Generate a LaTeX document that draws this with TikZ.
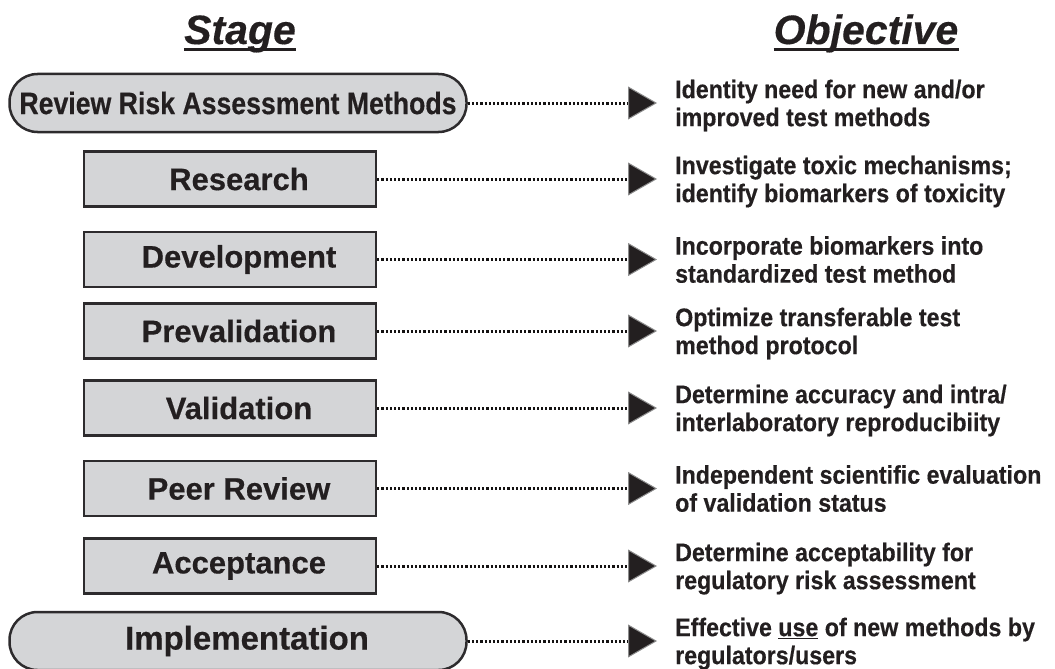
\documentclass[tikz,border=0pt]{standalone}
\usepackage{fontspec}
\setmainfont{Liberation Sans}[BoldFeatures={FakeBold=0.4}, BoldItalicFeatures={FakeBold=0.4}]
\newfontfamily\narrowfont[FakeStretch=0.86, BoldFeatures={FakeBold=0.4}]{Liberation Sans}
\newfontfamily\objfont[FakeStretch=0.91, BoldFeatures={FakeBold=0.4}]{Liberation Sans}
\usetikzlibrary{arrows.meta,positioning,calc}
\definecolor{boxfill}{RGB}{212,213,215}
\definecolor{boxline}{RGB}{45,43,45}
\definecolor{textdark}{RGB}{35,31,32}
\definecolor{dotline}{RGB}{20,18,18}
\definecolor{tipfill}{RGB}{35,31,32}
\definecolor{tipedge}{RGB}{140,140,140}

\begin{document}
\begin{tikzpicture}[x=1pt,y=1pt,
    stagebox/.style={draw=boxline, fill=boxfill, line width=2.5pt, minimum width=292pt, minimum height=55pt, inner sep=0pt},
    endbox/.style={stagebox, minimum width=457pt, minimum height=58pt, rounded corners=28pt},
    stagelabel/.style={text=textdark, font=\fontsize{31}{31}\selectfont\bfseries},
    titletext/.style={text=textdark, inner sep=0pt, font=\fontsize{41}{41}\selectfont\bfseries\itshape},
    titleline/.style={draw=textdark, line width=3pt},
    objtext/.style={text=textdark, inner sep=0pt, align=left, font=\objfont\fontsize{25.5}{28}\selectfont\bfseries},
    dotarrow/.style={draw=dotline, line width=3pt, dash pattern=on 2.2pt off 2pt, shorten >=18pt,
        -{Triangle[length=29pt, width=33pt, line width=1pt, color=tipedge, fill=tipfill]}}]
    \useasboundingbox (0,0) rectangle (1055,-669);

    % column titles
    \node[titletext, anchor=base] (stage) at (240,-44) {Stage};
    \node[titletext, anchor=base] (objective) at (866,-44) {Objective};
    \draw[titleline] ([yshift=-6pt]stage.base west) -- ([yshift=-6pt]stage.base east);
    \draw[titleline] ([yshift=-6pt]objective.base west) -- ([yshift=-6pt]objective.base east);

    % stages
    \node[endbox, text=textdark, font=\narrowfont\fontsize{31}{31}\selectfont\bfseries] (review) at (238,-103) {Review Risk Assessment Methods};
    \node[stagebox, label={[stagelabel, xshift=9pt]center:Research}] (research) at (230,-179) {};
    \node[stagebox, label={[stagelabel, xshift=9pt]center:Development}] (development) at (230,-259.5) {};
    \node[stagebox, label={[stagelabel, xshift=9pt]center:Prevalidation}] (prevalidation) at (230,-331) {};
    \node[stagebox, label={[stagelabel, xshift=9pt]center:Validation}] (validation) at (230,-408) {};
    \node[stagebox, label={[stagelabel, xshift=9pt]center:Peer Review}] (peerreview) at (230,-488.5) {};
    \node[stagebox, label={[stagelabel, xshift=9pt]center:Acceptance}] (acceptance) at (230,-566) {};
    \node[endbox, label={[stagelabel, xshift=9pt, font=\fontsize{33}{33}\selectfont\bfseries]center:Implementation}] (implementation) at (238,-641) {};

    % objectives
    \node[objtext, anchor=north west] (objreview) at (675,-79.5) {Identity need for new and/or\\improved test methods};
    \node[objtext, anchor=north west] (objresearch) at (675,-155.5) {Investigate toxic mechanisms;\\identify biomarkers of toxicity};
    \node[objtext, anchor=north west] (objdevelopment) at (675,-236) {Incorporate biomarkers into\\standardized test method};
    \node[objtext, anchor=north west] (objprevalidation) at (675,-307.5) {Optimize transferable test\\method protocol};
    \node[objtext, anchor=north west] (objvalidation) at (675,-384.5) {Determine accuracy and intra/\\interlaboratory reproducibiity};
    \node[objtext, anchor=north west] (objpeerreview) at (675,-465) {Independent scientific evaluation\\of validation status};
    \node[objtext, anchor=north west] (objacceptance) at (675,-542.5) {Determine acceptability for\\regulatory risk assessment};
    \node[objtext, anchor=north west] (objimplementation) at (675,-617.5) {Effective \underline{use} of new methods by\\regulators/users};

    \draw[dotarrow] (review) -- (review -| objreview.west);
    \draw[dotarrow] (research) -- (research -| objresearch.west);
    \draw[dotarrow] (development) -- (development -| objdevelopment.west);
    \draw[dotarrow] (prevalidation) -- (prevalidation -| objprevalidation.west);
    \draw[dotarrow] (validation) -- (validation -| objvalidation.west);
    \draw[dotarrow] (peerreview) -- (peerreview -| objpeerreview.west);
    \draw[dotarrow] (acceptance) -- (acceptance -| objacceptance.west);
    \draw[dotarrow] (implementation) -- (implementation -| objimplementation.west);
\end{tikzpicture}
\end{document}
